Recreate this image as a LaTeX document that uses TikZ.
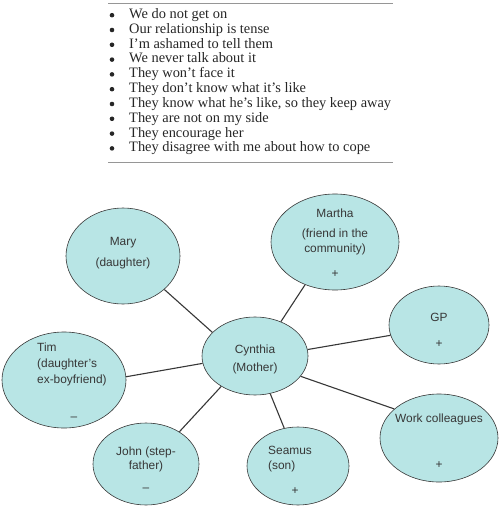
\documentclass[tikz,border=0pt]{standalone}
\usepackage{fontspec}
\setmainfont{Liberation Serif}
\setsansfont{Liberation Sans}
\usetikzlibrary{shapes.geometric}
\definecolor{bubblefill}{RGB}{184,229,229}
\definecolor{ink}{RGB}{55,55,55}
\definecolor{rulegray}{RGB}{150,150,150}
\begin{document}
\begin{tikzpicture}[x=1pt,y=-1pt,
  bubble/.style={ellipse, draw=ink, line width=0.6pt, fill=bubblefill, inner sep=0pt},
  lab/.style={font=\sffamily\fontsize{11.9}{14}\selectfont, text=ink, inner sep=0pt},
  link/.style={draw=ink, line width=1.1pt},
  itemtext/.style={font=\fontsize{14.4}{15}\selectfont, text=black!85, anchor=base west, inner sep=0pt},
  bul/.style={circle, fill=black!85, minimum size=4.6pt, inner sep=0pt}]
\useasboundingbox (0,0) rectangle (498,508);
% table
\coordinate (rtl) at (108,4); \coordinate (rtr) at (393,4);
\coordinate (rbl) at (108,162); \coordinate (rbr) at (393,162);
\draw[rulegray, line width=1pt] (rtl) -- (rtr);
\draw[rulegray, line width=1pt] (rbl) -- (rbr);
\foreach \t [count=\i from 0] in {We do not get on, Our relationship is tense, I’m ashamed to tell them, We never talk about it, They won’t face it, They don’t know what it’s like, {They know what he’s like, so they keep away}, They are not on my side, They encourage her, They disagree with me about how to cope}{
  \node[bul] (b\i) at (112, 15.2+14.8*\i) {};
  \node[itemtext] (t\i) at (129, 18.6+14.8*\i) {\t};
}
% bubbles
\node[bubble, minimum width=114pt, minimum height=96pt] (mary) at (123,256) {};
\node[bubble, minimum width=128pt, minimum height=96pt] (martha) at (335,242) {};
\node[bubble, minimum width=100pt, minimum height=78pt] (gp) at (439,325) {};
\node[bubble, minimum width=106pt, minimum height=78pt] (cyn) at (255,356) {};
\node[bubble, minimum width=124pt, minimum height=96pt] (tim) at (64,380) {};
\node[bubble, minimum width=106pt, minimum height=82pt] (john) at (146,464) {};
\node[bubble, minimum width=102pt, minimum height=78pt] (seamus) at (298,466) {};
\node[bubble, minimum width=118pt, minimum height=88pt] (work) at (439,438) {};
% connectors
\draw[link] (cyn.151) -- (mary.-39);
\draw[link] (cyn.53) -- (martha.-125);
\draw[link] (cyn.7.5) -- (gp.192);
\draw[link] (cyn.-24.6) -- (work.147);
\draw[link] (cyn.-68) -- (seamus.110);
\draw[link] (cyn.-138.5) -- (john.44);
\draw[link] (cyn.-172.5) -- (tim.3);
% labels
\node[lab, anchor=base] (maryA) at (123,245) {Mary};
\node[lab, anchor=base] (maryB) at (123,266) {(daughter)};
\node[lab, anchor=base] (marthaA) at (335,217) {Martha};
\node[lab, anchor=base] (marthaB) at (335,237) {(friend in the};
\node[lab, anchor=base] (marthaC) at (335,252) {community)};
\node[lab] (marthaP) at (335,274) {+};
\node[lab, anchor=base] (gpA) at (439,321) {GP};
\node[lab] (gpP) at (439,344) {+};
\node[lab, anchor=base] (cynA) at (255,353) {Cynthia};
\node[lab, anchor=base] (cynB) at (255,371) {(Mother)};
\node[lab, anchor=base west] (timA) at (37,351) {Tim};
\node[lab, anchor=base west] (timB) at (37,367) {(daughter’s};
\node[lab, anchor=base west] (timC) at (37,383) {ex-boyfriend)};
\node[lab] (timM) at (74,419) {–};
\node[lab, anchor=base] (johnA) at (146,455) {John (step-};
\node[lab, anchor=base] (johnB) at (146,469) {father)};
\node[lab] (johnM) at (146,490) {–};
\node[lab, anchor=base west] (seaA) at (268,454) {Seamus};
\node[lab, anchor=base west] (seaB) at (268,469) {(son)};
\node[lab] (seaP) at (295,491) {+};
\node[lab, anchor=base] (workA) at (439,422) {Work colleagues};
\node[lab] (workP) at (439,465) {+};
\end{tikzpicture}
\end{document}
